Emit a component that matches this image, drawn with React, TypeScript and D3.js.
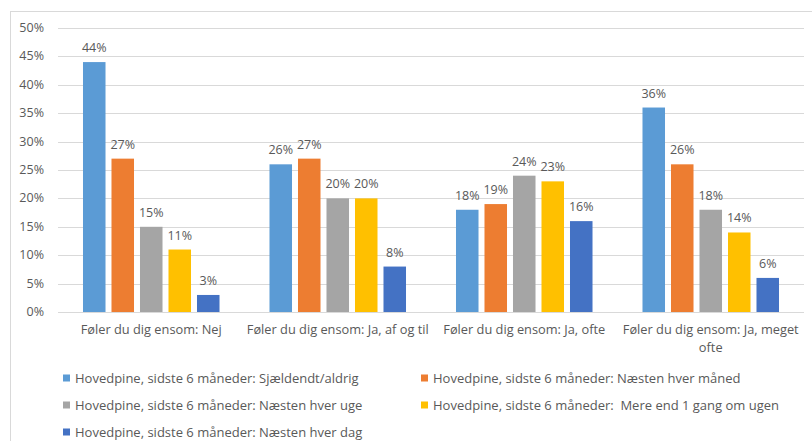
import React from "react";
import * as d3 from "d3";

const categories = [
  "Føler du dig ensom: Nej",
  "Føler du dig ensom: Ja, af og til",
  "Føler du dig ensom: Ja, ofte",
  "Føler du dig ensom: Ja, meget ofte",
];
const series = [
  "Hovedpine, sidste 6 måneder: Sjældendt/aldrig",
  "Hovedpine, sidste 6 måneder: Næsten hver måned",
  "Hovedpine, sidste 6 måneder: Næsten hver uge",
  "Hovedpine, sidste 6 måneder:  Mere end 1 gang om ugen",
  "Hovedpine, sidste 6 måneder: Næsten hver dag",
];
const values = [
  [44, 27, 15, 11, 3],
  [26, 27, 20, 20, 8],
  [18, 19, 24, 23, 16],
  [36, 26, 18, 14, 6],
];
const yTicks = [0, 5, 10, 15, 20, 25, 30, 35, 40, 45, 50];
const colors = ["#5B9BD5", "#ED7D31", "#A5A5A5", "#FFC000", "#4472C4"];

const W = 812;
const H = 441;
const FONT = "'Segoe UI', 'Open Sans', 'Noto Sans', sans-serif";
const TXT = "#595959";

export default function App() {
  const left = 58, right = 804, top = 28, bottom = 312;
  const y = d3.scaleLinear().domain([0, 50]).range([bottom, top]);
  const x0 = d3.scaleBand().domain(categories).range([left, right]).padding(0);
  const groupW = 142.5;
  const x1 = d3
    .scaleBand()
    .domain(series)
    .range([0, groupW])
    .paddingInner(0.21)
    .paddingOuter(0.105);

  const wrapLabel = (s: string): string[] => {
    if (s.length > 33) {
      const idx = s.lastIndexOf(" ");
      return [s.slice(0, idx), s.slice(idx + 1)];
    }
    return [s];
  };

  const legendPos = [
    { x: 63, y: 378 },
    { x: 421, y: 378 },
    { x: 63, y: 405 },
    { x: 421, y: 405 },
    { x: 63, y: 432 },
  ];

  return (
    <svg
      width={W}
      height={H}
      style={{ position: "absolute", left: 0, top: 0, background: "#fff" }}
      fontFamily={FONT}
    >
      <rect x={10.5} y={11.5} width={900} height={500} fill="#fff" stroke="#D9D9D9" />
      {yTicks.map((t) => (
        <g key={t}>
          <line x1={left} x2={right} y1={Math.round(y(t)) + 0.5} y2={Math.round(y(t)) + 0.5} stroke="#D9D9D9" strokeWidth={1} />
          <text x={44} y={y(t) + 4} textAnchor="end" fontSize={12.5} fill={TXT}>
            {t}%
          </text>
        </g>
      ))}
      {categories.map((c, ci) => {
        const gx = (x0(c) as number) + x0.bandwidth() / 2 - groupW / 2;
        return (
          <g key={c}>
            {series.map((s, si) => {
              const v = values[ci][si];
              const bx = gx + (x1(s) as number);
              return (
                <g key={s}>
                  <rect x={bx} y={y(v)} width={x1.bandwidth()} height={y(0) - y(v)} fill={colors[si]} />
                  <text x={bx + x1.bandwidth() / 2} y={y(v) - 10} textAnchor="middle" fontSize={12.5} fill={TXT}>
                    {v}%
                  </text>
                </g>
              );
            })}
            {wrapLabel(c).map((line, li) => (
              <text
                key={li}
                x={(x0(c) as number) + x0.bandwidth() / 2}
                y={334 + li * 18}
                textAnchor="middle"
                fontSize={12.8}
                fill={TXT}
              >
                {line}
              </text>
            ))}
          </g>
        );
      })}
      {series.map((s, si) => (
        <g key={s}>
          <rect x={legendPos[si].x} y={legendPos[si].y - 3.5} width={7} height={7} fill={colors[si]} />
          <text x={legendPos[si].x + 12} y={legendPos[si].y + 4.5} fontSize={13} fill={TXT} xmlSpace="preserve" style={{ whiteSpace: "pre" }}>
            {s}
          </text>
        </g>
      ))}
    </svg>
  );
}
